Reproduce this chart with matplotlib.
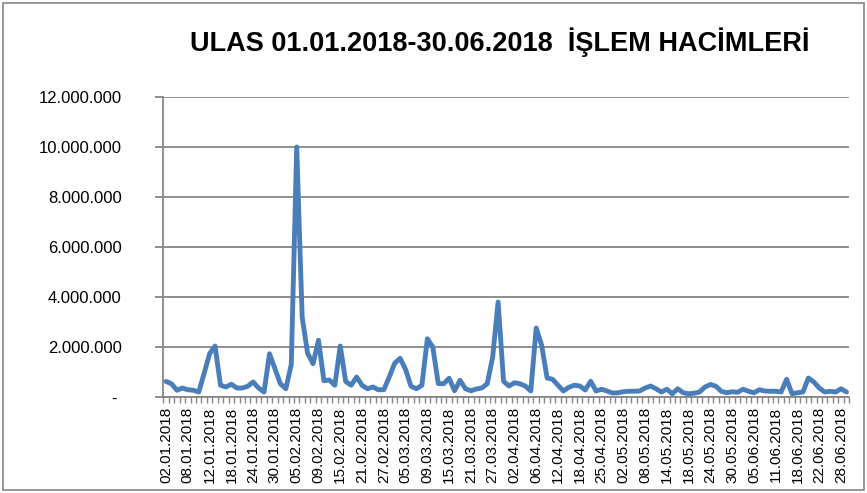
import matplotlib
matplotlib.use("Agg")
import matplotlib.pyplot as plt
from matplotlib.ticker import FuncFormatter, FixedLocator
from matplotlib.patches import Rectangle

title = "ULAS 01.01.2018-30.06.2018  İŞLEM HACİMLERİ"

# trading-day volumes 02.01.2018 .. 29.06.2018 (126 trading days)
volumes = [
    620000, 530000, 270000, 360000, 290000, 270000, 200000, 950000, 1730000, 2040000,
    470000, 400000, 510000, 360000, 360000, 430000, 600000, 360000, 200000, 1730000,
    1130000, 530000, 330000, 1300000, 10000000, 3200000, 1750000, 1330000, 2270000, 650000,
    680000, 470000, 2040000, 620000, 470000, 800000, 470000, 330000, 400000, 290000,
    290000, 800000, 1350000, 1550000, 1100000, 430000, 330000, 470000, 2330000, 2000000,
    540000, 530000, 750000, 250000, 670000, 330000, 250000, 320000, 360000, 530000,
    1600000, 3800000, 630000, 440000, 570000, 530000, 440000, 240000, 2760000, 2070000,
    760000, 710000, 470000, 240000, 390000, 470000, 440000, 280000, 630000, 240000,
    310000, 240000, 160000, 170000, 210000, 230000, 230000, 240000, 360000, 440000,
    330000, 200000, 310000, 130000, 330000, 170000, 130000, 150000, 200000, 400000,
    500000, 430000, 230000, 170000, 210000, 190000, 310000, 230000, 170000, 290000,
    240000, 230000, 230000, 200000, 710000, 130000, 170000, 200000, 760000, 600000,
    360000, 200000, 230000, 200000, 330000, 200000,
]

# date labels shown on the category axis (every 4th trading day)
tick_labels = [
    "02.01.2018", "08.01.2018", "12.01.2018", "18.01.2018", "24.01.2018", "30.01.2018",
    "05.02.2018", "09.02.2018", "15.02.2018", "21.02.2018", "27.02.2018", "05.03.2018",
    "09.03.2018", "15.03.2018", "21.03.2018", "27.03.2018", "02.04.2018", "06.04.2018",
    "12.04.2018", "18.04.2018", "25.04.2018", "02.05.2018", "08.05.2018", "14.05.2018",
    "18.05.2018", "24.05.2018", "30.05.2018", "05.06.2018", "11.06.2018", "18.06.2018",
    "22.06.2018", "28.06.2018",
]
label_step = 4
y_ticks = [0, 2000000, 4000000, 6000000, 8000000, 10000000, 12000000]

plt.rcParams['font.family'] = ['Liberation Sans', 'DejaVu Sans']

W, H = 867, 493
fig = plt.figure(figsize=(W / 100, H / 100), dpi=100)
fig.patch.set_facecolor("white")

ax_left, ax_right, ax_top, ax_bot = 163.35, 849.2, 97, 397
ax = fig.add_axes([ax_left / W, 1 - ax_bot / H, (ax_right - ax_left) / W, (ax_bot - ax_top) / H])

grey = "#868686"
x = list(range(len(volumes)))
ax.plot(x, volumes, color="#4A7EBB", lw=3.5, solid_joinstyle="round", solid_capstyle="round", zorder=3)

ax.set_xlim(-0.5, len(volumes) - 0.5)
ax.set_ylim(y_ticks[0], y_ticks[-1])
ax.set_yticks(y_ticks)
ax.yaxis.set_major_formatter(FuncFormatter(
    lambda v, p: "- " if v == 0 else f"{v:,.0f}".replace(",", ".")))
ax.grid(axis="y", color=grey, lw=1.3, zorder=1)
ax.set_axisbelow(True)

major_pos = list(range(0, len(volumes), label_step))
ax.xaxis.set_major_locator(FixedLocator(major_pos))
ax.set_xticklabels(tick_labels, rotation=90, fontsize=11)
ax.xaxis.set_minor_locator(FixedLocator([i - 0.5 for i in range(len(volumes) + 1)]))
ax.tick_params(axis="x", which="major", length=0, pad=7)
ax.tick_params(axis="x", which="minor", length=4, color=grey, width=1)
ax.tick_params(axis="y", length=6, color=grey, width=1.3, pad=24, labelsize=12)

for s in ["top", "right"]:
    ax.spines[s].set_visible(False)
for s in ["left", "bottom"]:
    ax.spines[s].set_color(grey)
    ax.spines[s].set_linewidth(1.3)

fig.text(500 / W, 1 - 42 / H, title, ha="center", va="center", fontsize=19.5, fontweight="bold")

fig.patches.append(Rectangle((3 / W, 3 / H), (W - 6) / W, (H - 6) / H, transform=fig.transFigure,
                             fill=False, edgecolor=grey, lw=1.2))

fig.savefig("out.png", dpi=100)
